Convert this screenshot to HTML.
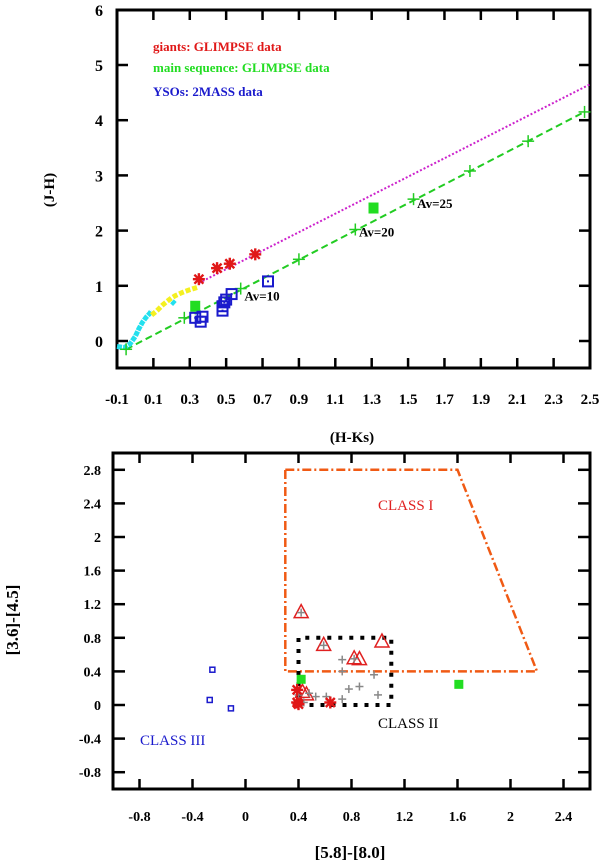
<!DOCTYPE html>
<html><head><meta charset="utf-8"><style>
html,body{margin:0;padding:0;background:#fff;}
svg{display:block;font-family:"Liberation Serif",serif;}
</style></head><body>
<svg id="c" width="600" height="862" viewBox="0 0 600 862"></svg>
<script>
// ---------- Top panel data ----------
const topXTicks = [-0.1,0.1,0.3,0.5,0.7,0.9,1.1,1.3,1.5,1.7,1.9,2.1,2.3,2.5];
const topYTicks = [0,1,2,3,4,5,6];
const reddeningGiantX = [0.35,2.5];
const reddeningGiantY = [1.05,4.65];
const reddeningDwarfX = [-0.05,2.47];
const reddeningDwarfY = [-0.15,4.15];
const avMarkX = [-0.05,0.27,0.58,0.9,1.21,1.53,1.84,2.16,2.47];
const avMarkY = [-0.15,0.42,0.95,1.48,2.02,2.57,3.08,3.62,4.15];
const avLabels = ["Av=10","Av=20","Av=25"];
const avLabelX = [0.6,1.23,1.55];
const avLabelY = [0.82,1.98,2.5];
const giantsX = [0.35,0.45,0.52,0.66];
const giantsY = [1.12,1.32,1.4,1.57];
const msSqX = [0.33,1.31];
const msSqY = [0.62,2.4];
const ysoX = [0.33,0.36,0.37,0.48,0.48,0.49,0.5,0.53,0.73];
const ysoY = [0.42,0.35,0.44,0.55,0.63,0.7,0.75,0.85,1.08];
const dwarfLocusX = [-0.1,-0.06,-0.03,0.0,0.02,0.04,0.06,0.08,0.09];
const dwarfLocusY = [-0.1,-0.12,-0.06,0.08,0.22,0.34,0.43,0.5,0.55];
const giantLocusX = [0.09,0.12,0.15,0.18,0.2,0.22,0.26,0.3,0.35];
const giantLocusY = [0.47,0.55,0.65,0.73,0.78,0.82,0.88,0.93,0.98];

// ---------- Bottom panel data ----------
const botXTicks = [-0.8,-0.4,0,0.4,0.8,1.2,1.6,2,2.4];
const botYTicks = [-0.8,-0.4,0,0.4,0.8,1.2,1.6,2,2.4,2.8];
const class1X = [0.3,1.6,2.2,0.3,0.3];
const class1Y = [2.8,2.8,0.4,0.4,2.8];
const class2X = [0.4,1.1,1.1,0.4,0.4];
const class2Y = [0,0,0.8,0.8,0];
const triX = [0.42,0.59,0.82,0.86,1.03,0.43,0.46];
const triY = [1.1,0.71,0.55,0.54,0.75,0.15,0.12];
const plusX = [0.42,0.59,0.73,0.73,0.82,0.97,0.78,0.86,1.0,0.53,0.61,0.73,0.4,0.44,0.48];
const plusY = [1.1,0.71,0.54,0.4,0.55,0.36,0.19,0.22,0.12,0.1,0.1,0.07,0.12,0.03,0.14];
const astX = [0.39,0.39,0.4,0.64];
const astY = [0.18,0.03,0.01,0.03];
const gsqX = [0.42,1.61];
const gsqY = [0.3,0.24];
const bsqX = [-0.25,-0.27,-0.11];
const bsqY = [0.42,0.06,-0.04];

const NS="http://www.w3.org/2000/svg";
const svg=document.getElementById('c');
function mk(tag,attrs,parent){const e=document.createElementNS(NS,tag);for(const k in attrs)e.setAttribute(k,attrs[k]);(parent||svg).appendChild(e);return e;}
function txt(s,x,y,attrs,parent){const e=mk('text',Object.assign({x:x,y:y},attrs),parent);e.textContent=s;return e;}

// axis functions
const tx=v=>117+(v+0.1)/2.6*473;
const ty=v=>341-v*55.2;
const bx=v=>113+(v+1)/3.6*477;
const by=v=>789-(v+1)/4*336;

function frame(x0,y0,x1,y1,name){
  const r=mk('rect',{x:x0,y:y0,width:x1-x0,height:y1-y0,fill:'none',stroke:'#000','stroke-width':3});
  
  
}
// ===== TOP =====
const gT=mk('g',{});


frame(117,10,590,368,'top-plot-frame');
topXTicks.forEach(v=>{
  const x=tx(v);
  mk('line',{x1:x,y1:368,x2:x,y2:358,stroke:'#000','stroke-width':2.5},gT);
  mk('line',{x1:x,y1:10,x2:x,y2:20,stroke:'#000','stroke-width':2.5},gT);
  const t=txt(String(v),x,404,{'font-size':15,'font-weight':'bold','text-anchor':'middle'},gT);
  
  
});
topYTicks.forEach(v=>{
  const y=ty(v);
  mk('line',{x1:117,y1:y,x2:128,y2:y,stroke:'#000','stroke-width':2.5},gT);
  mk('line',{x1:590,y1:y,x2:579,y2:y,stroke:'#000','stroke-width':2.5},gT);
  const t=txt(String(v),99,y+6,{'font-size':16,'font-weight':'bold','text-anchor':'middle'},gT);
  
  
});
let t1=txt('(H-Ks)',352,442,{'font-size':15,'font-weight':'bold','text-anchor':'middle'});

let t2=txt('(J-H)',0,0,{'font-size':15,'font-weight':'bold','text-anchor':'middle',transform:'translate(54,190) rotate(-90)'});


const legT=[['giants: GLIMPSE data','#e01818',51],['main sequence: GLIMPSE data','#22dd22',72],['YSOs: 2MASS data','#1a1acc',96]];
legT.forEach(l=>{const e=txt(l[0],153,l[2],{'font-size':13,'font-weight':'bold',fill:l[1]});
  });

function poly(xs,ys,fx,fy,attrs,name,parent){
  const pts=xs.map((x,i)=>fx(x).toFixed(1)+','+fy(ys[i]).toFixed(1)).join(' ');
  const e=mk('polyline',Object.assign({points:pts,fill:'none'},attrs),parent);
  return e;
}
poly(reddeningGiantX,reddeningGiantY,tx,ty,{stroke:'#cc22cc','stroke-width':2,'stroke-dasharray':'2,2'},'giant-reddening-line');
poly(reddeningDwarfX,reddeningDwarfY,tx,ty,{stroke:'#22cc22','stroke-width':2,'stroke-dasharray':'7,4'},'dwarf-reddening-line');
poly(dwarfLocusX,dwarfLocusY,tx,ty,{stroke:'#22e0ee','stroke-width':5,'stroke-dasharray':'5,1'},'dwarf-locus');
poly(giantLocusX,giantLocusY,tx,ty,{stroke:'#f4f020','stroke-width':5,'stroke-dasharray':'5,2'},'giant-locus');
poly([0.2,0.22],[0.66,0.73],tx,ty,{stroke:'#22e0ee','stroke-width':4},'dwarf-locus-fragment');

function plus(x,y,s,col,w,name,parent){
  const g=mk('g',{},parent);
  
  mk('line',{x1:x-s,y1:y,x2:x+s,y2:y,stroke:col,'stroke-width':w},g);
  mk('line',{x1:x,y1:y-s,x2:x,y2:y+s,stroke:col,'stroke-width':w},g);
}
function star(x,y,s,col,name,parent){
  const g=mk('g',{},parent);
  
  mk('line',{x1:x-s,y1:y,x2:x+s,y2:y,stroke:col,'stroke-width':2.4},g);
  mk('line',{x1:x,y1:y-s,x2:x,y2:y+s,stroke:col,'stroke-width':2.4},g);
  mk('line',{x1:x-s*.75,y1:y-s*.75,x2:x+s*.75,y2:y+s*.75,stroke:col,'stroke-width':2.4},g);
  mk('line',{x1:x-s*.75,y1:y+s*.75,x2:x+s*.75,y2:y-s*.75,stroke:col,'stroke-width':2.4},g);
}
avMarkX.forEach((v,i)=>plus(tx(v),ty(avMarkY[i]),6,'#22cc22',1.5,'av-marker'));
avLabels.forEach((s,i)=>{const e=txt(s,tx(avLabelX[i]),ty(avLabelY[i])+5,{'font-size':13,'font-weight':'bold'});
  });
giantsX.forEach((v,i)=>star(tx(v),ty(giantsY[i]),6,'#e01818','giant-point'));
msSqX.forEach((v,i)=>{const e=mk('rect',{x:tx(v)-5,y:ty(msSqY[i])-6,width:10,height:11,fill:'#22dd22'});
  });
ysoX.forEach((v,i)=>{const x=tx(v),y=ty(ysoY[i]);
  const e=mk('rect',{x:x-5,y:y-5,width:10,height:10,fill:'none',stroke:'#1a1acc','stroke-width':2});
  
  mk('rect',{x:x-1,y:y-1,width:2,height:2,fill:'#1a1acc'});});

// ===== BOTTOM =====
frame(113,453,590,789,'bottom-plot-frame');
botXTicks.forEach(v=>{
  const x=bx(v);
  mk('line',{x1:x,y1:789,x2:x,y2:779,stroke:'#000','stroke-width':2.5});
  mk('line',{x1:x,y1:453,x2:x,y2:463,stroke:'#000','stroke-width':2.5});
  const t=txt(String(v),x,821,{'font-size':14,'font-weight':'bold','text-anchor':'middle'});
  
});
botYTicks.forEach(v=>{
  const y=by(v);
  mk('line',{x1:113,y1:y,x2:125,y2:y,stroke:'#000','stroke-width':2.5});
  mk('line',{x1:590,y1:y,x2:578,y2:y,stroke:'#000','stroke-width':2.5});
  const t=txt(String(v),101,y+5,{'font-size':14,'font-weight':'bold','text-anchor':'end'});
  
});
let t3=txt('[5.8]-[8.0]',350,858,{'font-size':17,'font-weight':'bold','text-anchor':'middle'});

let t4=txt('[3.6]-[4.5]',0,0,{'font-size':17,'font-weight':'bold','text-anchor':'middle',transform:'translate(18,620) rotate(-90)'});


poly(class1X,class1Y,bx,by,{stroke:'#f05a14','stroke-width':2.5,'stroke-dasharray':'9,3,2,3'},'class-i-region');
poly(class2X,class2Y,bx,by,{stroke:'#000','stroke-width':4,'stroke-dasharray':'4,7'},'class-ii-region');
let c1=txt('CLASS I',378,510,{'font-size':15,fill:'#e02020'});
let c2=txt('CLASS II',378,728,{'font-size':15,fill:'#000'});
let c3=txt('CLASS III',140,745,{'font-size':15,fill:'#1a1acc'});

triX.forEach((v,i)=>{const x=bx(v),y=by(triY[i]);
  const e=mk('polygon',{points:`${x},${y-8} ${x-7},${y+5} ${x+7},${y+5}`,fill:'none',stroke:'#e02020','stroke-width':1.5});
  });
plusX.forEach((v,i)=>plus(bx(v),by(plusY[i]),4,'#888',1.5,'plus-point'));
astX.forEach((v,i)=>star(bx(v),by(astY[i]),6,'#e01818','asterisk-point'));
gsqX.forEach((v,i)=>{const e=mk('rect',{x:bx(v)-4.5,y:by(gsqY[i])-5,width:9,height:9,fill:'#22dd22'});
  });
bsqX.forEach((v,i)=>{const e=mk('rect',{x:bx(v)-2.5,y:by(bsqY[i])-2.5,width:5,height:5,fill:'none',stroke:'#1a1acc','stroke-width':1.5});
  });
</script>
</body></html>
